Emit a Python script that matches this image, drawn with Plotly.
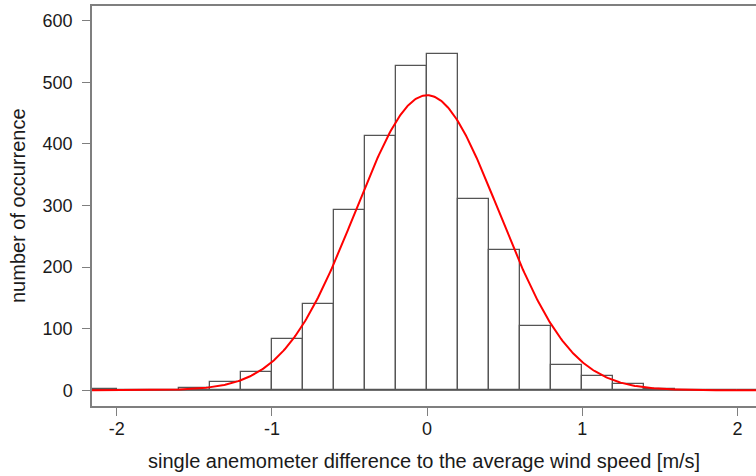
import numpy as np
import plotly.graph_objects as go

# Histogram data (bin width 0.2 m/s)
bin_left_edges = [-2.2, -2.0, -1.8, -1.6, -1.4, -1.2, -1.0, -0.8, -0.6, -0.4, -0.2,
                  0.0, 0.2, 0.4, 0.6, 0.8, 1.0, 1.2, 1.4, 1.6, 1.8, 2.0]
counts = [2, 1, 0, 3, 14, 29, 84, 140, 293, 413, 527,
          546, 311, 228, 104, 41, 24, 10, 2, 0, 1, 1]
bin_width = 0.2

# Fitted normal distribution parameters
fit_mean = 0.0
fit_sd = 0.462

x_tick_vals = [-2, -1, 0, 1, 2]
x_tick_text = ["-2", "-1", "0", "1", "2"]
y_tick_vals = [0, 100, 200, 300, 400, 500, 600]

centers = [e + bin_width / 2 for e in bin_left_edges]
total = sum(counts)
xc = np.linspace(-2.3, 2.3, 600)
yc = total * bin_width / (fit_sd * np.sqrt(2 * np.pi)) * np.exp(-0.5 * ((xc - fit_mean) / fit_sd) ** 2)

FONT = "Liberation Sans, Arial, sans-serif"
AXC = "#7f7f7f"
TXT = "#1a1a1a"
FS = 20
TFS = 18

fig = go.Figure()
fig.add_trace(go.Bar(
    x=centers, y=counts, width=bin_width,
    marker=dict(color="white", line=dict(color="#555555", width=1.3)),
    showlegend=False,
))
fig.add_trace(go.Scatter(
    x=xc, y=yc, mode="lines",
    line=dict(color="#ff0000", width=2),
    showlegend=False,
))

fig.update_layout(
    width=756, height=476,
    margin=dict(l=92, r=0, t=6, b=70),
    plot_bgcolor="white", paper_bgcolor="white",
    font=dict(family=FONT, size=FS, color=TXT),
    bargap=0,
    xaxis=dict(
        range=[-2.16, 2.12],
        tickvals=x_tick_vals, ticktext=x_tick_text,
        ticks="outside", ticklen=8, tickcolor=AXC, tickwidth=1,
        showline=True, linecolor=AXC, linewidth=1.5, mirror=True,
        showgrid=False, zeroline=False, automargin=False,
        tickfont=dict(size=TFS), ticklabelstandoff=-2,
    ),
    yaxis=dict(
        range=[-25.5, 624],
        tickvals=y_tick_vals,
        ticks="outside", ticklen=8, tickcolor=AXC, tickwidth=1,
        showline=True, linecolor=AXC, linewidth=1.5,
        showgrid=False, automargin=False,
        zeroline=True, zerolinecolor="#6f6f6f", zerolinewidth=1.3,
        tickfont=dict(size=TFS), ticklabelstandoff=6,
    ),
    annotations=[
        dict(text="single anemometer difference to the average wind speed [m/s]",
             xref="paper", yref="paper", x=0.5, y=-0.1375,
             xanchor="center", yanchor="middle", showarrow=False,
             font=dict(size=FS, color=TXT)),
        dict(text="number of occurrence",
             xref="paper", yref="paper", x=-0.1114, y=0.5, textangle=-90,
             xanchor="center", yanchor="middle", showarrow=False,
             font=dict(size=FS, color=TXT)),
    ],
)

fig.write_html("out.html",
               config={"displayModeBar": False},
               post_script="document.body.style.margin='0';document.body.style.overflow='hidden';")
